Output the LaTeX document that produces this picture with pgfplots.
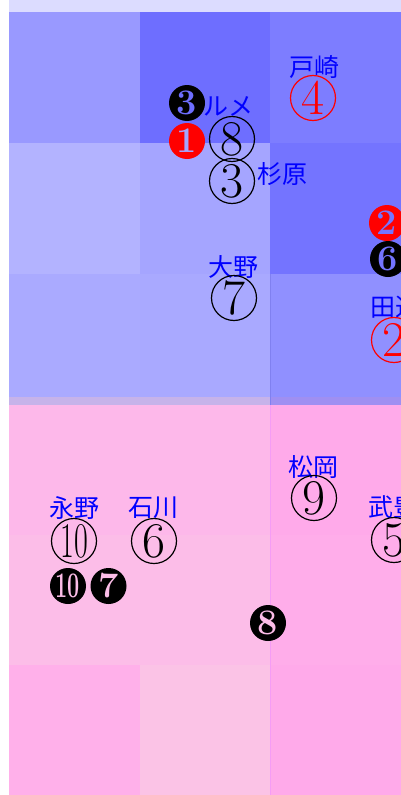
\documentclass[border=0pt]{standalone}
\usepackage{pgfplots}
\pgfplotsset{compat=1.18}
\usepackage{fontspec}
\usepackage{graphicx}
\newfontfamily\jp{Noto Sans CJK JP}
\definecolor{topc}{HTML}{DCDCFF}
\definecolor{r1c1}{HTML}{9999FF}\definecolor{r1c2}{HTML}{6E6EFF}\definecolor{r1c3}{HTML}{7D7DFF}
\definecolor{r2c1}{HTML}{B3B3FF}\definecolor{r2c2}{HTML}{A5A5FF}\definecolor{r2c3}{HTML}{7474FF}
\definecolor{r3c1}{HTML}{AAAAFF}\definecolor{r3c2}{HTML}{A9A9FF}\definecolor{r3c3}{HTML}{9090FF}
\definecolor{r4c1}{HTML}{FDB8EA}\definecolor{r4c2}{HTML}{FDB8EA}\definecolor{r4c3}{HTML}{FFAAEA}
\definecolor{r5c1}{HTML}{FCBDE8}\definecolor{r5c2}{HTML}{FCBDE8}\definecolor{r5c3}{HTML}{FFADEA}
\definecolor{r6c1}{HTML}{FFB0EA}\definecolor{r6c2}{HTML}{FBC3E6}\definecolor{r6c3}{HTML}{FFAAEA}
\definecolor{bandA}{HTML}{C6B3EA}\definecolor{bandB}{HTML}{9F8FF2}
\definecolor{vlineB}{HTML}{8080F0}\definecolor{vlineP}{HTML}{F59CF5}
\newcommand{\cell}[5]{\addplot[fill=#5, draw=none, forget plot] coordinates {(#1,#2) (#3,#2) (#3,#4) (#1,#4)} -- cycle;}
\newcommand{\cond}[1]{\scalebox{0.6}[1]{#1}}
\begin{document}
\begin{tikzpicture}
\useasboundingbox (0,0) rectangle (401pt,795pt);
\clip (0,0) rectangle (401pt,795pt);
\begin{axis}[at={(0,0)}, anchor=south west, scale only axis, width=401pt, height=795pt,
  xmin=0, xmax=401, ymin=0, ymax=795, y dir=reverse, hide axis, clip=false,
  outl/.style={only marks, mark=none, nodes near coords, point meta=explicit symbolic,
    every node near coord/.append style={anchor=center, circle, draw=#1, text=#1, line width=1.2pt,
      minimum size=45pt, inner sep=0pt, font=\fontsize{50}{50}\selectfont}},
  filled/.style={only marks, mark=none, nodes near coords, point meta=explicit symbolic,
    every node near coord/.append style={anchor=center, circle, fill=#1, minimum size=36pt,
      inner sep=0pt, font=\bfseries\fontsize{36}{36}\selectfont}},
  names/.style={only marks, mark=none, nodes near coords, point meta=explicit symbolic,
    every node near coord/.append style={anchor=center, inner sep=0pt, text=blue,
      font=\jp\fontsize{25}{25}\selectfont}},
]
% grid cells
\cell{9}{0}{401}{12}{topc}
\cell{9}{12}{140}{143}{r1c1}\cell{140}{12}{270}{143}{r1c2}\cell{270}{12}{401}{143}{r1c3}
\cell{9}{143}{140}{274}{r2c1}\cell{140}{143}{270}{274}{r2c2}\cell{270}{143}{401}{274}{r2c3}
\cell{9}{274}{140}{397}{r3c1}\cell{140}{274}{270}{397}{r3c2}\cell{270}{274}{401}{397}{r3c3}
\cell{9}{397}{270}{405}{bandA}\cell{270}{397}{401}{405}{bandB}
\cell{9}{405}{140}{535}{r4c1}\cell{140}{405}{270}{535}{r4c2}\cell{270}{405}{401}{535}{r4c3}
\cell{9}{535}{140}{665}{r5c1}\cell{140}{535}{270}{665}{r5c2}\cell{270}{535}{401}{665}{r5c3}
\cell{9}{665}{140}{795}{r6c1}\cell{140}{665}{270}{795}{r6c2}\cell{270}{665}{401}{795}{r6c3}
\addplot[vlineB, line width=0.8pt, forget plot] coordinates {(270,274) (270,405)};
\addplot[vlineP, line width=0.8pt, forget plot] coordinates {(270,405) (270,795)};
% names
\addplot[names] coordinates {(314,67)[戸崎] (228,106)[ルメ] (282,174)[杉原] (233,267)[大野]
  (395,307)[田辺] (313,467)[松岡] (393,507)[武豊] (74,508)[永野] (153,508)[石川]};
% outlined circles
\addplot[outl=black] coordinates {(232,139)[8] (232,181)[3] (234,298)[7] (314,498)[9]
  (394,540)[5] (74,541)[{\cond{10}}] (154,541)[6]};
\addplot[outl=red] coordinates {(313,98)[4] (394,340)[2]};
% filled circles
\addplot[filled=black] coordinates {(187,103)[{\color{r1c2}3}] (388,259)[{\color{r2c3}6}]
  (68,586)[{\color{r5c1}\cond{10}}] (108.5,586)[{\color{r5c1}7}] (268,623)[{\color{r5c2}8}]};
\addplot[filled=red] coordinates {(187,141)[{\color{r2c2}1}] (387,223)[{\color{r2c3}2}]};
\end{axis}
\end{tikzpicture}
\end{document}
